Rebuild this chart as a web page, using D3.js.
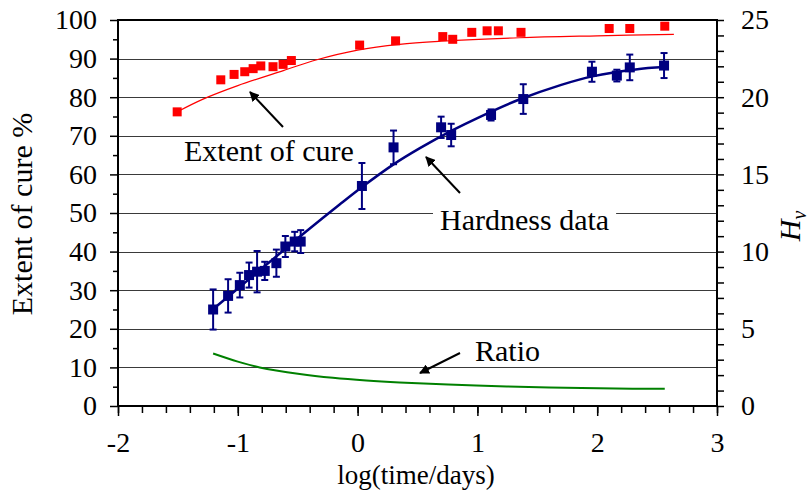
<!DOCTYPE html>
<html>
<head>
<meta charset="utf-8">
<script src="https://cdn.jsdelivr.net/npm/d3@7"></script>
<style>
  body { margin: 0; background: #fff; }
  svg { display: block; font-family: "Liberation Serif", "Times New Roman", serif; }
</style>
</head>
<body>
<div id="graph"></div>
<script>

// extent of cure (%) measurements
var cureX = [-1.506, -1.142, -1.031, -0.942, -0.872, -0.808, -0.706, -0.622, -0.553, 0.017, 0.317, 0.711, 0.794, 0.953, 1.081, 1.175, 1.364, 2.1, 2.272, 2.564];
var cureY = [76.2, 84.5, 85.9, 86.6, 87.4, 88.1, 87.9, 88.5, 89.5, 93.5, 94.6, 95.7, 95.0, 96.8, 97.2, 97.2, 96.8, 97.8, 97.8, 98.4];

// fitted cure curve
var cureFitX = [-1.5, -1.29, -1.0, -0.62, -0.34, 0.0, 0.35, 0.7, 1.35, 2.0, 2.64];
var cureFitY = [76.3, 79.5, 83.0, 86.9, 89.7, 92.2, 93.7, 94.5, 95.4, 95.9, 96.3];

// hardness Hv with error bars
var hardX = [-1.206, -1.081, -0.983, -0.906, -0.839, -0.775, -0.678, -0.603, -0.525, -0.475, 0.036, 0.30, 0.697, 0.781, 1.114, 1.383, 1.956, 2.164, 2.272, 2.558];
var hardY = [6.25, 7.13, 7.83, 8.48, 8.7, 8.75, 9.25, 10.33, 10.65, 10.65, 14.25, 16.75, 18.05, 17.55, 18.85, 19.88, 21.65, 21.4, 21.93, 22.05];
var hardErr = [1.3, 1.08, 0.8, 0.81, 1.34, 0.59, 0.88, 0.68, 0.63, 0.74, 1.49, 1.09, 0.69, 0.73, 0.36, 0.96, 0.65, 0.38, 0.83, 0.81];

// fitted hardness curve
var hardFitX = [-1.21, -0.9, -0.6, -0.43, -0.15, 0.04, 0.3, 0.52, 0.79, 1.0, 1.35, 1.7, 1.96, 2.32, 2.56];
var hardFitY = [6.25, 8.25, 10.2, 11.3, 13.05, 14.2, 15.65, 16.7, 17.85, 18.65, 19.85, 20.8, 21.35, 21.8, 21.95];

// ratio curve (left axis)
var ratioX = [-1.206, -1.0, -0.817, -0.483, -0.206, 0.072, 0.35, 0.989, 1.6, 2.294, 2.564];
var ratioY = [13.6, 11.5, 10.0, 8.3, 7.3, 6.6, 6.1, 5.3, 4.8, 4.5, 4.5];

var xTicks = [-2, -1, 0, 1, 2, 3];
var leftTicks = [0, 10, 20, 30, 40, 50, 60, 70, 80, 90, 100];
var rightTicks = [0, 5, 10, 15, 20, 25];

function setup() {
    var width = 811, height = 491;
    var svg = d3.select("#graph").append("svg")
        .attr("width", width)
        .attr("height", height);

    var x = d3.scaleLinear().domain([-2, 3]).range([118, 717]);
    var yL = d3.scaleLinear().domain([0, 100]).range([406, 20]);
    var yR = d3.scaleLinear().domain([0, 25]).range([406, 20]);

    svg.append("defs").append("marker")
        .attr("id", "arr")
        .attr("viewBox", "0 0 10 10")
        .attr("refX", 9).attr("refY", 5)
        .attr("markerWidth", 5).attr("markerHeight", 5)
        .attr("orient", "auto")
        .append("path")
        .attr("d", "M0,0 L10,5 L0,10 z")
        .attr("fill", "#000");

    // gridlines
    svg.append("g").selectAll("line")
        .data(leftTicks.filter(d => d > 0 && d < 100))
        .enter().append("line")
        .attr("x1", x(-2)).attr("x2", x(3))
        .attr("y1", d => Math.round(yL(d)) + 0.5)
        .attr("y2", d => Math.round(yL(d)) + 0.5)
        .attr("stroke", "#3a3a3a")
        .attr("stroke-width", 1);

    // label boxes that break the gridlines
    var labels = [
        {text: "Extent of cure", x: 184, y: 161},
        {text: "Hardness data", x: 440, y: 230},
        {text: "Ratio", x: 475, y: 361}
    ];
    var lg = svg.append("g");
    labels.forEach(function(l) {
        var t = lg.append("text")
            .attr("x", l.x).attr("y", l.y)
            .attr("font-size", 30)
            .attr("fill", "#000")
            .text(l.text);
        var b = t.node().getBBox();
        lg.insert("rect", "text")
            .attr("x", b.x - 7).attr("y", b.y + 4)
            .attr("width", b.width + 14).attr("height", b.height - 6)
            .attr("fill", "#fff");
    });

    // arrows
    var arrows = [[283, 127, 250, 92], [460, 193, 426, 157], [460, 353, 420, 373]];
    svg.append("g").selectAll("line")
        .data(arrows)
        .enter().append("line")
        .attr("x1", d => d[0]).attr("y1", d => d[1])
        .attr("x2", d => d[2]).attr("y2", d => d[3])
        .attr("stroke", "#000")
        .attr("stroke-width", 2)
        .attr("marker-end", "url(#arr)");

    // axes
    var xAxis = d3.axisBottom(x).tickValues(d3.range(-2, 3.01, 0.2)).tickSize(7).tickFormat("");
    svg.append("g")
        .attr("transform", "translate(0," + yL(0) + ")")
        .call(xAxis)
        .call(g => g.selectAll("line").attr("stroke-width", 1.5))
        .call(g => g.select(".domain").remove());
    svg.append("g")
        .attr("transform", "translate(0," + yL(0) + ")")
        .call(d3.axisBottom(x).tickValues(xTicks).tickSize(10).tickPadding(16).tickFormat(d3.format("d")))
        .call(g => g.selectAll("line").attr("stroke-width", 1.5))
        .call(g => g.select(".domain").remove())
        .call(g => g.selectAll("text").attr("font-size", 28).attr("font-family", "Liberation Serif").attr("fill", "#000").text(d => String(d).replace("\u2212", "-")));

    svg.append("g")
        .attr("transform", "translate(" + x(-2) + ",0)")
        .call(d3.axisLeft(yL).tickValues(d3.range(5, 100, 10)).tickSize(5).tickFormat(""))
        .call(g => g.selectAll("line").attr("stroke-width", 1.5))
        .call(g => g.select(".domain").remove());
    svg.append("g")
        .attr("transform", "translate(" + x(-2) + ",0)")
        .call(d3.axisLeft(yL).tickValues(leftTicks).tickSize(8).tickPadding(13))
        .call(g => g.selectAll("line").attr("stroke-width", 1.5))
        .call(g => g.select(".domain").remove())
        .call(g => g.selectAll("text").attr("font-size", 28).attr("font-family", "Liberation Serif").attr("fill", "#000"));

    svg.append("g")
        .attr("transform", "translate(" + x(3) + ",0)")
        .call(d3.axisRight(yR).tickValues(d3.range(0, 26, 1)).tickSize(7).tickFormat(""))
        .call(g => g.selectAll("line").attr("stroke-width", 1.5))
        .call(g => g.select(".domain").remove());
    svg.append("g")
        .attr("transform", "translate(" + x(3) + ",0)")
        .call(d3.axisRight(yR).tickValues(rightTicks).tickSize(0).tickPadding(24))
        .call(g => g.select(".domain").remove())
        .call(g => g.selectAll("text").attr("font-size", 28).attr("font-family", "Liberation Serif").attr("fill", "#000"));

    // frame lines
    svg.append("path")
        .attr("d", "M" + x(-2) + "," + yL(100) + "H" + x(3) + "V" + yL(0) + "H" + x(-2) + "Z")
        .attr("fill", "none")
        .attr("stroke", "#000")
        .attr("stroke-width", 2);

    // axis titles
    svg.append("text")
        .attr("transform", "translate(32," + 214 + ") rotate(-90)")
        .attr("text-anchor", "middle")
        .attr("font-size", 30)
        .text("Extent of cure %");
    svg.append("text")
        .attr("x", 416).attr("y", 484)
        .attr("text-anchor", "middle")
        .attr("font-size", 27)
        .text("log(time/days)");
    var hv = svg.append("text")
        .attr("transform", "translate(800,226) rotate(-90)")
        .attr("text-anchor", "middle")
        .attr("font-size", 30)
        .attr("font-style", "italic");
    hv.append("tspan").text("H");
    hv.append("tspan").attr("font-size", 20).attr("dy", 6).text("v");

    var line = d3.line().curve(d3.curveCatmullRom.alpha(0.5));

    // ratio curve
    svg.append("path")
        .attr("d", line(ratioX.map((d, i) => [x(d), yL(ratioY[i])])))
        .attr("fill", "none")
        .attr("stroke", "#008000")
        .attr("stroke-width", 2);

    // cure fit + points
    svg.append("path")
        .attr("d", line(cureFitX.map((d, i) => [x(d), yL(cureFitY[i])])))
        .attr("fill", "none")
        .attr("stroke", "#ff0000")
        .attr("stroke-width", 1.2);
    svg.append("g").selectAll("rect")
        .data(cureX.map((d, i) => [d, cureY[i]]))
        .enter().append("rect")
        .attr("x", d => x(d[0]) - 4.5)
        .attr("y", d => yL(d[1]) - 4.5)
        .attr("width", 9).attr("height", 9)
        .attr("fill", "#ff0000");

    // hardness fit, error bars and points
    svg.append("path")
        .attr("d", line(hardFitX.map((d, i) => [x(d), yR(hardFitY[i])])))
        .attr("fill", "none")
        .attr("stroke", "#000080")
        .attr("stroke-width", 2.5);

    var hard = hardX.map((d, i) => ({x: d, y: hardY[i], e: hardErr[i]}));
    var eb = svg.append("g")
        .attr("stroke", "#000080")
        .attr("stroke-width", 2);
    eb.selectAll(".v").data(hard).enter().append("line")
        .attr("x1", d => x(d.x)).attr("x2", d => x(d.x))
        .attr("y1", d => yR(d.y - d.e)).attr("y2", d => yR(d.y + d.e));
    eb.selectAll(".t").data(hard).enter().append("line")
        .attr("x1", d => x(d.x) - 3.5).attr("x2", d => x(d.x) + 3.5)
        .attr("y1", d => yR(d.y + d.e)).attr("y2", d => yR(d.y + d.e));
    eb.selectAll(".b").data(hard).enter().append("line")
        .attr("x1", d => x(d.x) - 3.5).attr("x2", d => x(d.x) + 3.5)
        .attr("y1", d => yR(d.y - d.e)).attr("y2", d => yR(d.y - d.e));
    svg.append("g").selectAll("rect")
        .data(hard)
        .enter().append("rect")
        .attr("x", d => x(d.x) - 5)
        .attr("y", d => yR(d.y) - 5)
        .attr("width", 10).attr("height", 10)
        .attr("fill", "#000080");
}

window.addEventListener('load', setup)
</script>
</body>
</html>
